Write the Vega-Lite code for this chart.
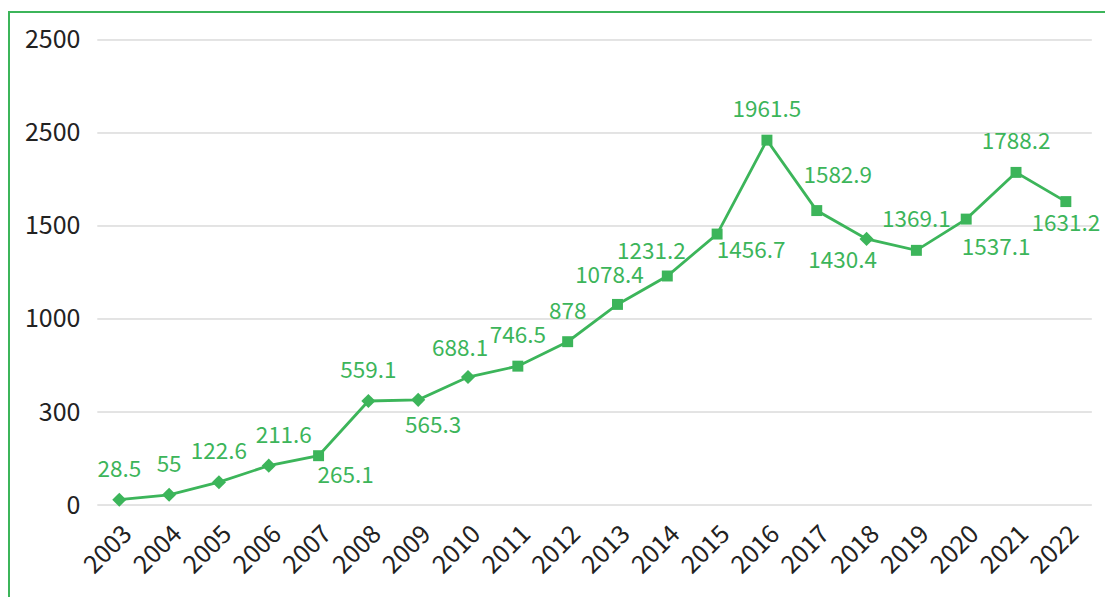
{
  "$schema": "https://vega.github.io/schema/vega-lite/v6.json",
  "autosize": {"type": "none"},
  "padding": {"left": 9, "top": 12, "right": 0, "bottom": 0},
  "width": 1096,
  "height": 585,
  "background": "white",
  "view": {"stroke": "#3cb55a", "strokeWidth": 2, "strokeDash": [1096, 1681, 585]},
  "config": {"font": "Noto Sans CJK SC"},
  "data": {
    "values": [
      {"year": "2003", "value": 28.5},
      {"year": "2004", "value": 55},
      {"year": "2005", "value": 122.6},
      {"year": "2006", "value": 211.6},
      {"year": "2007", "value": 265.1},
      {"year": "2008", "value": 559.1},
      {"year": "2009", "value": 565.3},
      {"year": "2010", "value": 688.1},
      {"year": "2011", "value": 746.5},
      {"year": "2012", "value": 878},
      {"year": "2013", "value": 1078.4},
      {"year": "2014", "value": 1231.2},
      {"year": "2015", "value": 1456.7},
      {"year": "2016", "value": 1961.5},
      {"year": "2017", "value": 1582.9},
      {"year": "2018", "value": 1430.4},
      {"year": "2019", "value": 1369.1},
      {"year": "2020", "value": 1537.1},
      {"year": "2021", "value": 1788.2},
      {"year": "2022", "value": 1631.2}
    ]
  },
  "encoding": {
    "x": {
      "field": "year",
      "type": "ordinal",
      "bandPosition": 0.5,
      "scale": {"type": "band", "paddingInner": 0, "paddingOuter": 1, "align": 0.857},
      "axis": {
        "title": null,
        "grid": false,
        "domain": false,
        "ticks": false,
        "offset": -92,
        "labelAngle": -45,
        "labelPadding": 16,
        "labelFontSize": 25,
        "labelColor": "#222222",
        "labelOverlap": false
      }
    },
    "y": {
      "field": "value",
      "type": "quantitative",
      "scale": {"domain": [-494.6, 2650.5], "nice": false, "zero": false},
      "axis": {
        "title": null,
        "values": [0, 500, 1000, 1500, 2000, 2500],
        "labelExpr": "datum.value == 500 ? '300' : datum.value == 2000 ? '2500' : format(datum.value, 'd')",
        "grid": false,
        "domain": false,
        "ticks": false,
        "tickSize": 0,
        "offset": -73,
        "labelPadding": 2,
        "labelFontSize": 25,
        "labelColor": "#222222"
      }
    }
  },
  "layer": [
    {
      "data": {"values": [{"value": 0}, {"value": 500}, {"value": 1000}, {"value": 1500}, {"value": 2000}, {"value": 2500}]},
      "mark": {"type": "rule", "color": "#c8c8c8", "strokeWidth": 1, "xOffset": -22, "x2Offset": 26},
      "encoding": {
        "x": {"datum": "2003", "type": "ordinal", "bandPosition": 0.5},
        "x2": {"datum": "2022", "bandPosition": 0.5}
      }
    },
    {
      "mark": {"type": "line", "color": "#3cb55a", "strokeWidth": 2.8}
    },
    {
      "mark": {"type": "point", "filled": true, "opacity": 1, "color": "#3cb55a"},
      "encoding": {
        "shape": {"condition": {"test": "indexof(['2003','2004','2005','2006','2008','2009','2010','2018'], datum.year) >= 0", "value": "diamond"}, "value": "square"},
        "size": {"condition": {"test": "indexof(['2003','2004','2005','2006','2008','2009','2010','2018'], datum.year) >= 0", "value": 200}, "value": 120}
      }
    },
    {
      "encoding": {"text": {"field": "value", "type": "nominal"}},
      "layer": [
        {"transform": [{"filter": {"field": "year", "oneOf": ["2003", "2004", "2005", "2008", "2011", "2012", "2016", "2019", "2021"]}}],
         "mark": {"type": "text", "color": "#3cb55a", "fontSize": 22.5, "baseline": "alphabetic", "dx": 0, "dy": -23}},
        {"transform": [{"filter": {"field": "year", "oneOf": ["2006"]}}],
         "mark": {"type": "text", "color": "#3cb55a", "fontSize": 22.5, "baseline": "alphabetic", "dx": 15, "dy": -23}},
        {"transform": [{"filter": {"field": "year", "oneOf": ["2017"]}}],
         "mark": {"type": "text", "color": "#3cb55a", "fontSize": 22.5, "baseline": "alphabetic", "dx": 21, "dy": -28}},
        {"transform": [{"filter": {"field": "year", "oneOf": ["2010", "2013"]}}],
         "mark": {"type": "text", "color": "#3cb55a", "fontSize": 22.5, "baseline": "alphabetic", "dx": -8, "dy": -21}},
        {"transform": [{"filter": {"field": "year", "oneOf": ["2014"]}}],
         "mark": {"type": "text", "color": "#3cb55a", "fontSize": 22.5, "baseline": "alphabetic", "dx": -16, "dy": -17}},
        {"transform": [{"filter": {"field": "year", "oneOf": ["2007"]}}],
         "mark": {"type": "text", "color": "#3cb55a", "fontSize": 22.5, "baseline": "alphabetic", "dx": 27, "dy": 27}},
        {"transform": [{"filter": {"field": "year", "oneOf": ["2009"]}}],
         "mark": {"type": "text", "color": "#3cb55a", "fontSize": 22.5, "baseline": "alphabetic", "dx": 15, "dy": 33}},
        {"transform": [{"filter": {"field": "year", "oneOf": ["2015"]}}],
         "mark": {"type": "text", "color": "#3cb55a", "fontSize": 22.5, "baseline": "alphabetic", "dx": 34, "dy": 24}},
        {"transform": [{"filter": {"field": "year", "oneOf": ["2018"]}}],
         "mark": {"type": "text", "color": "#3cb55a", "fontSize": 22.5, "baseline": "alphabetic", "dx": -24, "dy": 29}},
        {"transform": [{"filter": {"field": "year", "oneOf": ["2020"]}}],
         "mark": {"type": "text", "color": "#3cb55a", "fontSize": 22.5, "baseline": "alphabetic", "dx": 30, "dy": 36}},
        {"transform": [{"filter": {"field": "year", "oneOf": ["2022"]}}],
         "mark": {"type": "text", "color": "#3cb55a", "fontSize": 22.5, "baseline": "alphabetic", "dx": 0, "dy": 29}}
      ]
    }
  ]
}
